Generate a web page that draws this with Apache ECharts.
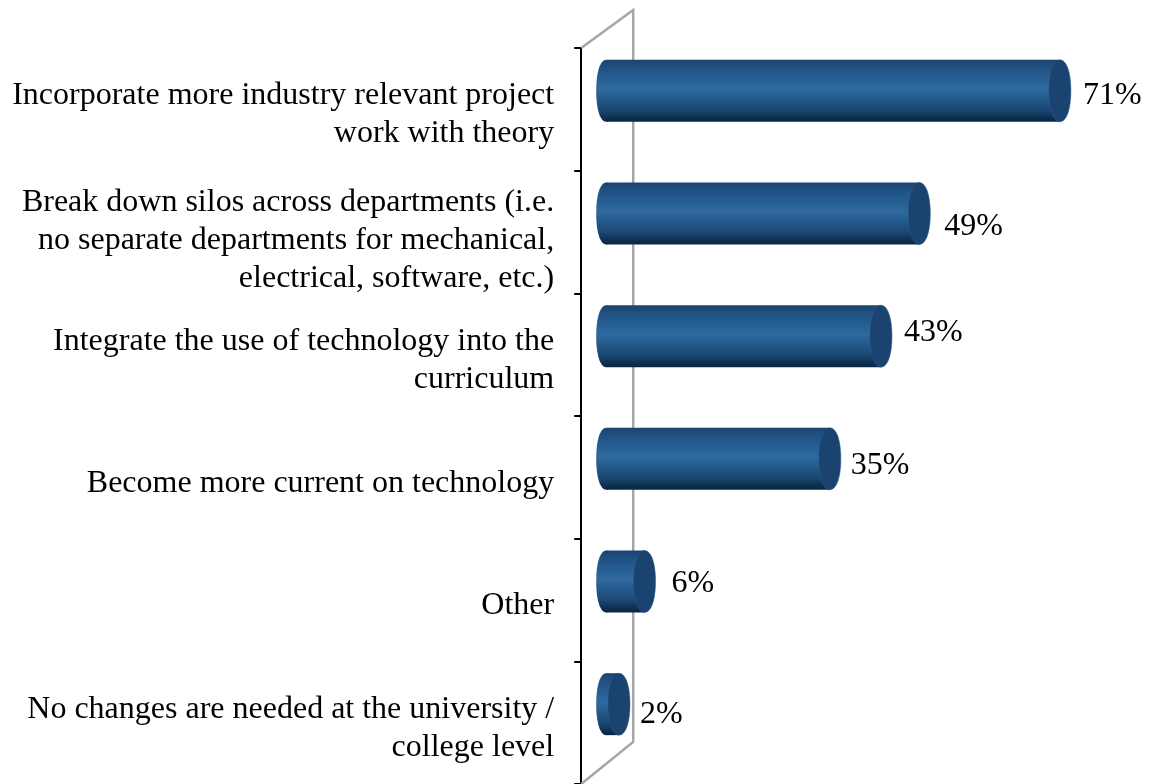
<!DOCTYPE html>
<html>
<head>
<meta charset="utf-8">
<style>html,body{margin:0;padding:0;background:#fff}#chart{width:1153px;height:784px}</style>
<script src="https://cdn.jsdelivr.net/npm/echarts@6/dist/echarts.min.js"></script>
</head>
<body>
<div id="chart"></div>
<script>
const categories = [
  'Incorporate more industry relevant project\nwork with theory',
  'Break down silos across departments (i.e.\nno separate departments for mechanical,\nelectrical, software, etc.)',
  'Integrate the use of technology into the\ncurriculum',
  'Become more current on technology',
  'Other',
  'No changes are needed at the university /\ncollege level'
];
const shares = [71, 49, 43, 35, 6, 2];

// Hand placement of each percentage label relative to its cylinder's end.
const labelShift = [[12, 5], [14, 13], [12, -4], [10, 7], [16, 2], [10, 10]];
// Top padding of each category label; half of it moves the block down.
const categoryDrop = [10, 17, 12, 12, 12, 12];

const FONT = '"Liberation Serif", "Times New Roman", serif';
const DEPTH_UP = 18.5;    // the bars sit forward of the band centre, as in an oblique 3D view
const CAP_RX = 11;
const TAIL_RX = 10;
const ROUND = 0.6;        // bezier handle ratio; a little above 0.55 gives slightly squarer cap ends

const bodyFill = () => new echarts.graphic.LinearGradient(0, 0, 0, 1, [
  { offset: 0, color: '#1b426c' },
  { offset: 0.1, color: '#1f4f7f' },
  { offset: 0.3, color: '#265e94' },
  { offset: 0.47, color: '#2f6a9f' },
  { offset: 0.62, color: '#245a8c' },
  { offset: 0.8, color: '#1c4874' },
  { offset: 0.93, color: '#0f3050' },
  { offset: 1, color: '#0a2540' }
]);

// Half an ellipse-like curve from top to bottom, bulging by rx (negative = to the left).
function halfCap(cx, cy, rx, ry) {
  const h = ry * ROUND, k = rx * ROUND;
  return 'C' + (cx + k) + ' ' + (cy - ry) + ' ' + (cx + rx) + ' ' + (cy - h) + ' ' + (cx + rx) + ' ' + cy +
    'C' + (cx + rx) + ' ' + (cy + h) + ' ' + (cx + k) + ' ' + (cy + ry) + ' ' + cx + ' ' + (cy + ry);
}

function capPath(cx, cy, rx, ry) {
  return {
    type: 'path',
    shape: {
      pathData: 'M' + cx + ' ' + (cy - ry) + halfCap(cx, cy, rx, ry) + halfCap(cx, cy, -rx, -ry) + 'Z',
      x: cx - rx, y: cy - ry, width: rx * 2, height: ry * 2, layout: 'cover'
    }
  };
}

function renderCylinder(params, api) {
  const i = params.dataIndex;
  const value = api.value(0);
  const start = api.coord([0, i]);
  const end = api.coord([value, i]);
  const band = api.size([0, 1])[1];
  const ry = band * 0.2525;
  const cy = start[1] - DEPTH_UP;
  const shift = labelShift[i];
  return {
    type: 'group',
    children: [
      Object.assign(capPath(start[0], cy, TAIL_RX, ry), { style: { fill: bodyFill() } }),
      { type: 'rect', shape: { x: start[0], y: cy - ry, width: end[0] - start[0], height: ry * 2 }, style: { fill: bodyFill() } },
      Object.assign(capPath(end[0], cy, CAP_RX, ry), { style: { fill: '#1b436f', stroke: '#2a5a8c', lineWidth: 0.5 } }),
      {
        type: 'text',
        style: {
          x: end[0] + CAP_RX + shift[0],
          y: cy + shift[1],
          text: value + '%',
          font: '32px ' + FONT,
          fill: '#000',
          align: 'left',
          verticalAlign: 'middle'
        }
      }
    ]
  };
}

// Grey back wall of the 3D plot, built from the plot rectangle.
function renderWall(params) {
  const c = params.coordSys;
  const front = c.x - 25, back = c.x + 27, rise = 38, drop = 42;
  return {
    type: 'polyline',
    shape: { points: [[front, c.y], [back, c.y - rise], [back, c.y + c.height - drop], [front, c.y + c.height]] },
    style: { fill: 'none', stroke: '#a6a6a6', lineWidth: 2.5 }
  };
}

const chart = echarts.init(document.getElementById('chart'), null, { renderer: 'canvas' });
chart.setOption({
  animation: false,
  backgroundColor: '#fff',
  grid: { left: 606.2, top: 48, width: 511.2, height: 736 },
  xAxis: { type: 'value', min: 0, max: 80, show: false },
  yAxis: {
    type: 'category',
    inverse: true,
    data: categories.map((value, i) => ({ value, textStyle: { padding: [categoryDrop[i], 0, 0, 0] } })),
    offset: 25,
    axisLine: { show: true, onZero: false, lineStyle: { color: '#000', width: 2 } },
    axisTick: { show: true, length: 7, lineStyle: { color: '#000', width: 2 } },
    axisLabel: {
      margin: 27,
      align: 'right',
      interval: 0,
      color: '#000',
      fontFamily: FONT,
      fontSize: 32,
      lineHeight: 38,
      rich: { line: {} }   // rich layout is what honours top padding on a middle-aligned block
    }
  },
  series: [
    { type: 'custom', z: 1, silent: true, coordinateSystem: 'cartesian2d', renderItem: renderWall, data: [[0, 0]] },
    { type: 'custom', z: 2, coordinateSystem: 'cartesian2d', encode: { x: 0, y: 1 }, renderItem: renderCylinder,
      data: shares.map((v, i) => [v, i]) }
  ]
});
</script>
</body>
</html>
